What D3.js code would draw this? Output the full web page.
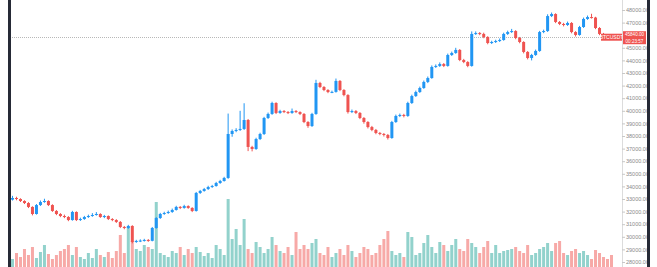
<!DOCTYPE html>
<html>
<head>
<meta charset="utf-8">
<script src="https://cdn.jsdelivr.net/npm/d3@7"></script>
<style>
  html, body { margin: 0; padding: 0; background: #fff; overflow: hidden; }
  svg { display: block; font-family: "Liberation Sans", "DejaVu Sans", sans-serif; }
</style>
</head>
<body>
<script>
// candle data, one entry per bar
const opens = [32950,33080,33000,32840,32680,32370,31810,32520,32760,32840,32520,32050,31810,31650,31570,31330,31970,31330,31410,31570,31650,31730,31810,31570,31650,31410,31330,31180,30780,30700,30860,29590,29670,29700,29750,29680,30700,31490,31810,31890,31970,32130,32370,32290,32440,32290,32050,33480,33640,33790,33950,34030,34270,34430,34670,38160,38400,38480,38560,39270,37130,36970,37760,38160,39430,39750,40620,39830,39980,39900,39830,39980,39900,39750,39110,38790,39750,42210,41890,41650,41490,41500,42370,41650,41250,39900,39980,39830,39430,39110,38710,38480,38240,38160,38080,37840,39110,39590,39670,39590,40620,41170,41490,41810,42290,42600,43480,43560,43710,43560,44430,44590,44830,44030,43870,43560,46100,46170,46100,45860,45380,45460,45540,45620,46100,46250,46330,45780,45460,44670,44190,44430,44750,46250,46330,47520,47680,47050,46890,46810,46970,46250,46020,46650,47290,47440,47400,46570,46100,45940,45860];
const highs = [33250,33180,33060,32900,32750,32420,32600,32880,33020,32900,32580,32120,31880,31760,31640,32060,32020,31520,31660,31760,31880,31960,31870,31740,31700,31480,31400,31250,30860,30950,30920,29760,29800,29840,29820,30780,31560,31900,31990,32080,32240,32460,32440,32540,32500,32350,33560,33720,33880,34050,34120,34360,34520,34760,39780,38520,38620,40000,40600,39350,37220,37860,38260,39520,39860,40720,40680,40080,40060,39980,40180,40060,39960,39820,39180,39840,42460,42300,41960,41720,41600,42560,42440,41720,41320,40100,40060,39900,39500,39180,38800,38560,38320,38240,38160,39200,39700,39780,39760,40720,41280,41600,41920,42400,42720,43600,43680,43840,43790,44540,44700,45000,44900,44120,43940,46300,46300,46250,46200,45920,45560,45640,45740,46200,46360,46500,46400,45860,45520,44740,44520,44860,46340,46440,47660,47800,47740,47120,46980,47080,47040,46320,46740,47400,47560,47700,47460,46640,46180,46020,45940];
const lows = [32880,32900,32760,32600,32280,31700,31760,32450,32700,32440,31980,31720,31560,31480,31240,31280,31250,31260,31350,31500,31590,31680,31500,31480,31330,31240,31100,30690,30600,30630,29480,29520,29580,29620,29600,29640,30640,31420,31740,31820,31900,32080,32200,32230,32220,31960,32000,33400,33580,33720,33880,33980,34200,34380,34600,37940,38300,38400,38480,36800,36780,36900,37680,38080,39350,39680,39740,39760,39820,39740,39760,39820,39660,39020,38650,38720,39680,41800,41560,41400,41400,41440,41560,41150,39780,39820,39740,39340,38980,38600,38380,38140,38060,37960,37720,37780,39040,39500,39480,39520,40540,41100,41420,41740,42200,42540,43400,43480,43470,43500,44350,44520,43940,43780,43460,43500,46020,46000,45760,45280,45300,45380,45460,45560,46020,46180,45680,45360,44560,44080,44000,44360,44680,46160,46260,47440,46960,46800,46700,46740,46150,45900,45960,46580,47220,47320,46480,46000,45840,45780,45760];
const closes = [33080,33000,32840,32680,32370,31810,32520,32760,32840,32520,32050,31810,31650,31570,31330,31970,31330,31410,31570,31650,31730,31810,31570,31650,31410,31330,31180,30780,30700,30860,29590,29670,29700,29750,29680,30700,31490,31810,31890,31970,32130,32370,32290,32440,32290,32050,33480,33640,33790,33950,34030,34270,34430,34670,38160,38400,38480,38560,39270,37130,36970,37760,38160,39430,39750,40620,39830,39980,39900,39830,39980,39900,39750,39110,38790,39750,42210,41890,41650,41490,41500,42370,41650,41250,39900,39980,39830,39430,39110,38710,38480,38240,38160,38080,37840,39110,39590,39670,39590,40620,41170,41490,41810,42290,42600,43480,43560,43710,43560,44430,44590,44830,44030,43870,43560,46100,46170,46100,45860,45380,45460,45540,45620,46100,46250,46330,45780,45460,44670,44190,44430,44750,46250,46330,47520,47680,47050,46890,46810,46970,46250,46020,46650,47290,47440,47400,46570,46100,45940,45860,45840];
const volumes = [800,1400,1000,1800,1200,2000,900,1500,2200,1300,800,1200,1600,1800,2200,1200,2000,1000,800,1400,900,1800,1200,1000,1500,900,1600,3200,1400,4000,2600,1800,1600,2200,2000,1800,6500,1400,1200,1000,1600,1400,2000,1200,1800,1400,2000,1500,1100,1400,900,2200,1800,1200,6800,2800,3800,2200,4800,1800,1400,2500,2000,1400,1800,3000,2200,1600,1400,2000,1200,3500,1800,2200,1800,2400,2800,1400,1200,2000,1000,1400,1800,1200,2200,1600,1000,1400,2000,1800,1200,1400,2200,2800,3600,1600,1200,1400,1000,3500,3000,1200,1400,2400,3200,2000,1400,2500,2200,1600,2200,2800,1800,1600,2800,2400,2000,1400,2000,2600,1400,2200,1400,1600,1700,1800,2000,1600,1400,2200,1200,1400,1800,2000,2400,1600,2400,2600,1400,1200,1600,1800,1400,1600,1200,800,1700,1400,1000,800,1200,600];

// price axis labels
const tickValues = [48000,47000,46000,45000,44000,43000,42000,41000,40000,39000,38000,37000,36000,35000,34000,33000,32000,31000,30000,29000,28000];
const lastPrice = 45840;
const countdown = '00:23:57';
const symbol = 'BTCUSDT';

let width = 657,
  height = 267;

let svg = d3.select('body').append('svg')
  .attr('width', width)
  .attr('height', height);

svg.append('rect') // white page
  .attr('width', width)
  .attr('height', height)
  .attr('fill', '#fff');

let index = d3.range(closes.length);

let x = d3.scaleBand()
  .domain(index)
  .range([10, 10 + closes.length * 4])
  .padding(0.25);

let y = d3.scaleLinear()
  .domain([28000, 48000])
  .range([262, 10]);

let yVol = d3.scaleLinear()
  .domain([0, 8000])
  .range([height, height - 80]);

let up = i => closes[i] >= opens[i];

// volume histogram sits behind the candles
svg.append('g')
  .selectAll('rect')
  .data(index)
  .enter()
  .append('rect')
  .attr('x', i => x(i))
  .attr('width', x.bandwidth())
  .attr('y', i => yVol(volumes[i]))
  .attr('height', i => height - yVol(volumes[i]))
  .attr('fill', i => up(i) ? 'rgba(38,166,154,0.5)' : 'rgba(239,83,80,0.5)');

// price line
svg.append('line')
  .attr('x1', 10)
  .attr('x2', 622)
  .attr('y1', Math.round(y(lastPrice)) + 0.5)
  .attr('y2', Math.round(y(lastPrice)) + 0.5)
  .attr('stroke', '#b8b8b8')
  .attr('stroke-width', 1)
  .attr('stroke-dasharray', '1,1');

let candles = svg.append('g')
  .selectAll('g')
  .data(index)
  .enter()
  .append('g');

candles.append('line') // wick
  .attr('x1', i => x(i) + x.bandwidth() / 2)
  .attr('x2', i => x(i) + x.bandwidth() / 2)
  .attr('y1', i => y(highs[i]))
  .attr('y2', i => y(lows[i]))
  .attr('stroke', i => up(i) ? '#2196f3' : '#ef5350')
  .attr('stroke-width', 1);

candles.append('rect') // body
  .attr('x', i => x(i))
  .attr('width', x.bandwidth())
  .attr('y', i => y(Math.max(opens[i], closes[i])))
  .attr('height', i => Math.max(1, Math.abs(y(opens[i]) - y(closes[i]))))
  .attr('fill', i => up(i) ? '#2196f3' : '#ef5350');

// right price scale
let py = y(lastPrice);

let axis = d3.axisRight(y)
  .tickValues(tickValues)
  .tickSize(3)
  .tickFormat(d => Math.abs(y(d) - py) < 8 ? '' : d3.format('.2f')(d)); // hidden under the price label

let axisG = svg.append('g')
  .attr('transform', 'translate(622,0)')
  .call(axis);

axisG.select('.domain')
  .attr('d', 'M0.5,0V' + height)
  .attr('stroke', '#dcdcdc');

axisG.selectAll('.tick line')
  .attr('stroke', '#c8c8c8');

axisG.selectAll('.tick text')
  .attr('x', 4)
  .attr('fill', '#8a8a8a')
  .style('font-size', '5.5px')
  .style('font-family', '"Liberation Sans", sans-serif');

// last price labels
svg.append('rect')
  .attr('x', 601)
  .attr('y', py - 3.5)
  .attr('width', 21)
  .attr('height', 7)
  .attr('fill', '#ef5350');

svg.append('text')
  .attr('x', 611.5)
  .attr('y', py + 2)
  .attr('text-anchor', 'middle')
  .attr('fill', '#fff')
  .style('font-size', '5px')
  .text(symbol);

svg.append('rect')
  .attr('x', 623)
  .attr('y', py - 6)
  .attr('width', 23)
  .attr('height', 13)
  .attr('fill', '#ef5350');

svg.append('text')
  .attr('x', 634.5)
  .attr('y', py - 1)
  .attr('text-anchor', 'middle')
  .attr('fill', '#fff')
  .style('font-size', '4.6px')
  .text(d3.format('.2f')(lastPrice));

svg.append('text')
  .attr('x', 634.5)
  .attr('y', py + 5.5)
  .attr('text-anchor', 'middle')
  .attr('fill', '#fff')
  .style('font-size', '4.6px')
  .text(countdown);

// dark frame edges
svg.append('rect')
  .attr('x', 8)
  .attr('y', 0)
  .attr('width', 3)
  .attr('height', height)
  .attr('fill', '#262a36');

svg.append('rect')
  .attr('x', 647)
  .attr('y', 0)
  .attr('width', 3)
  .attr('height', height)
  .attr('fill', '#262a36');
</script>
</body>
</html>
